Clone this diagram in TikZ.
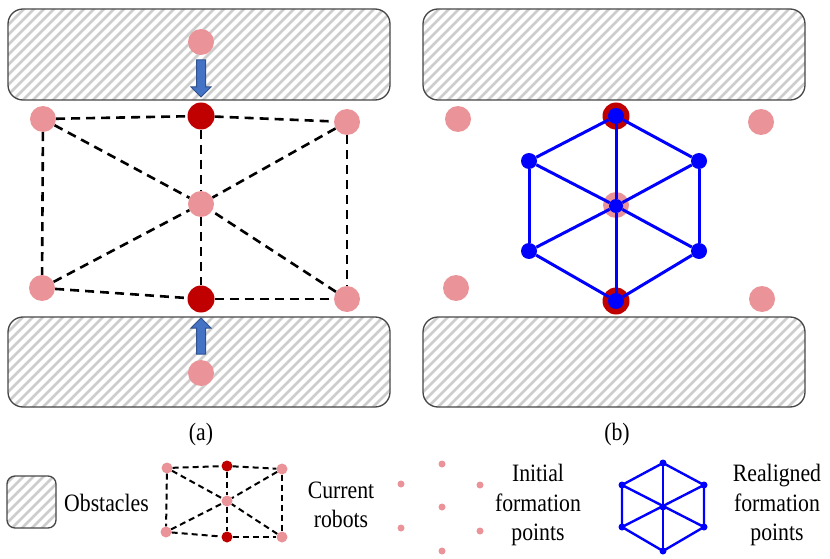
\documentclass[tikz,border=0pt]{standalone}
\usepackage{fontspec}
\setmainfont[FakeStretch=0.87]{Liberation Serif}
\definecolor{robpink}{RGB}{234,148,154}
\definecolor{robred}{RGB}{192,0,0}
\definecolor{arrfill}{RGB}{68,114,196}
\definecolor{arredge}{RGB}{47,82,143}
\definecolor{boxedge}{RGB}{70,70,70}
\definecolor{hatchgray}{RGB}{205,205,205}
\definecolor{formblue}{RGB}{0,0,255}
\tikzset{
  pinkbot/.style={circle, fill=robpink, minimum size=26pt, inner sep=0pt},
  redbot/.style={circle, fill=robred, minimum size=27pt, inner sep=0pt},
  bluedot/.style={circle, fill=formblue, minimum size=16pt, inner sep=0pt},
  smallpink/.style={circle, fill=robpink, minimum size=11pt, inner sep=0pt},
  smallred/.style={circle, fill=robred, minimum size=11pt, inner sep=0pt},
  tinypink/.style={circle, fill=robpink, minimum size=7pt, inner sep=0pt},
  tinyblue/.style={circle, fill=formblue, minimum size=7pt, inner sep=0pt},
  dashlink/.style={black, line width=2.6pt, dash pattern=on 9pt off 6pt},
  smalldash/.style={black, line width=2pt, dash pattern=on 6pt off 4pt},
  bluelink/.style={formblue, line width=3pt},
  smallblue/.style={formblue, line width=2.4pt},
  hatch/.style={hatchgray, line width=2.5pt},
  boxline/.style={boxedge, line width=1.3pt},
  blockarrow/.style={fill=arrfill, draw=arredge, line width=1pt},
  lbl/.style={font=\fontsize{25}{29.5}\selectfont, align=center, inner sep=0pt}
}
\newcommand{\hatchbox}[5]{% x1 y1 x2 y2 radius
  \begin{scope}
    \clip[rounded corners=#5] (#1,#2) rectangle (#3,#4);
    \foreach \s in {-120,-110,...,420}{
      \draw[hatch] ({#1+\s},{#4+5}) -- ++(130,-130);
    }
  \end{scope}
  \draw[boxline, rounded corners=#5] (#1,#2) rectangle (#3,#4);
}
\begin{document}
\begin{tikzpicture}[x=1pt,y=-1pt]
\useasboundingbox (0,0) rectangle (830,559);

% obstacles
\hatchbox{8}{9}{390}{100}{15}
\hatchbox{8}{317}{390}{407}{15}
\hatchbox{423}{9}{805}{100}{15}
\hatchbox{423}{317}{805}{407}{15}

% ---------- panel (a)
\node[pinkbot] (aTopIn) at (201,42) {};
\node[pinkbot] (aBotIn) at (201,373) {};
\node[redbot] (aRT) at (201,116) {};
\node[redbot] (aRB) at (201,299) {};
\node[pinkbot] (aTL) at (43,119) {};
\node[pinkbot] (aTR) at (347,122) {};
\node[pinkbot] (aC) at (201,204) {};
\node[pinkbot] (aBL) at (42,288) {};
\node[pinkbot] (aBR) at (347,299) {};

\draw[dashlink] (aTL) -- (aRT);
\draw[dashlink] (aRT) -- (aTR);
\draw[dashlink] (aTL) -- (aBL);
\draw[dashlink] (aTR) -- (aBR);
\draw[dashlink] (aBL) -- (aRB);
\draw[dashlink] (aRB) -- (aBR);
\draw[dashlink] (aTL) -- (aC);
\draw[dashlink] (aTR) -- (aC);
\draw[dashlink] (aBL) -- (aC);
\draw[dashlink] (aBR) -- (aC);
\draw[dashlink] (aRT) -- (aC);
\draw[dashlink] (aC) -- (aRB);

% block arrows
\draw[blockarrow] (196.5,60) -- (205.5,60) -- (205.5,87) -- (211,87) -- (201,97) -- (191,87) -- (196.5,87) -- cycle;
\draw[blockarrow] (196.5,354) -- (205.5,354) -- (205.5,328) -- (211,328) -- (201,318) -- (191,328) -- (196.5,328) -- cycle;

% ---------- panel (b)
\node[pinkbot] (bTL) at (458,119) {};
\node[pinkbot] (bTR) at (761,122) {};
\node[pinkbot] (bBL) at (456,288) {};
\node[pinkbot] (bBR) at (762,299) {};
\node[redbot] (bRT) at (616,116) {};
\node[redbot] (bRB) at (616,301) {};
\node[pinkbot] (bC) at (616,205) {};

\node[bluedot] (hT) at (616,116) {};
\node[bluedot] (hB) at (616,301) {};
\node[bluedot, minimum size=14pt] (hC) at (616,206) {};
\node[bluedot] (hUL) at (529,161) {};
\node[bluedot] (hUR) at (699,161) {};
\node[bluedot] (hLL) at (529,251) {};
\node[bluedot] (hLR) at (699,251) {};

\draw[bluelink] (hT) -- (hUL);
\draw[bluelink] (hT) -- (hUR);
\draw[bluelink] (hUL) -- (hLL);
\draw[bluelink] (hUR) -- (hLR);
\draw[bluelink] (hLL) -- (hB);
\draw[bluelink] (hLR) -- (hB);
\draw[bluelink] (hC) -- (hT);
\draw[bluelink] (hC) -- (hB);
\draw[bluelink] (hC) -- (hUL);
\draw[bluelink] (hC) -- (hUR);
\draw[bluelink] (hC) -- (hLL);
\draw[bluelink] (hC) -- (hLR);

% captions
\node[lbl] (capa) at (201,434) {(a)};
\node[lbl] (capb) at (617,434) {(b)};

% ---------- legend
\hatchbox{7}{476}{56}{528}{8}
\node[lbl, anchor=west] (lobs) at (64,503) {Obstacles};

\node[smallpink] (lTL) at (167,468) {};
\node[smallred] (lRT) at (227,466) {};
\node[smallpink] (lTR) at (282,469) {};
\node[smallpink] (lC) at (227,501) {};
\node[smallpink] (lBL) at (166,532) {};
\node[smallred] (lRB) at (227,537) {};
\node[smallpink] (lBR) at (282,537) {};
\draw[smalldash] (lTL) -- (lRT);
\draw[smalldash] (lRT) -- (lTR);
\draw[smalldash] (lTL) -- (lBL);
\draw[smalldash] (lTR) -- (lBR);
\draw[smalldash] (lBL) -- (lRB);
\draw[smalldash] (lRB) -- (lBR);
\draw[smalldash] (lTL) -- (lC);
\draw[smalldash] (lTR) -- (lC);
\draw[smalldash] (lBL) -- (lC);
\draw[smalldash] (lBR) -- (lC);
\draw[smalldash] (lRT) -- (lC);
\draw[smalldash] (lC) -- (lRB);
\node[lbl] (lcur) at (341,505) {Current\\robots};

\node[tinypink] (iT) at (442,464) {};
\node[tinypink] (iUL) at (401,484) {};
\node[tinypink] (iUR) at (480,485) {};
\node[tinypink] (iC) at (442,507) {};
\node[tinypink] (iLL) at (401,528) {};
\node[tinypink] (iLR) at (480,531) {};
\node[tinypink] (iB) at (442,551) {};
\node[lbl] (linit) at (538,505) {Initial\\formation\\points};

\node[tinyblue] (rT) at (663,463) {};
\node[tinyblue] (rUL) at (622,485) {};
\node[tinyblue] (rUR) at (704,485) {};
\node[tinyblue] (rC) at (663,507) {};
\node[tinyblue] (rLL) at (622,527) {};
\node[tinyblue] (rLR) at (704,527) {};
\node[tinyblue] (rB) at (663,551) {};
\draw[smallblue] (rT.center) -- (rUL.center) -- (rLL.center) -- (rB.center) -- (rLR.center) -- (rUR.center) -- cycle;
\draw[smallblue] (rT.center) -- (rB.center);
\draw[smallblue] (rUL.center) -- (rLR.center);
\draw[smallblue] (rUR.center) -- (rLL.center);
\node[lbl] (lreal) at (777,505) {Realigned\\formation\\points};
\end{tikzpicture}
\end{document}
